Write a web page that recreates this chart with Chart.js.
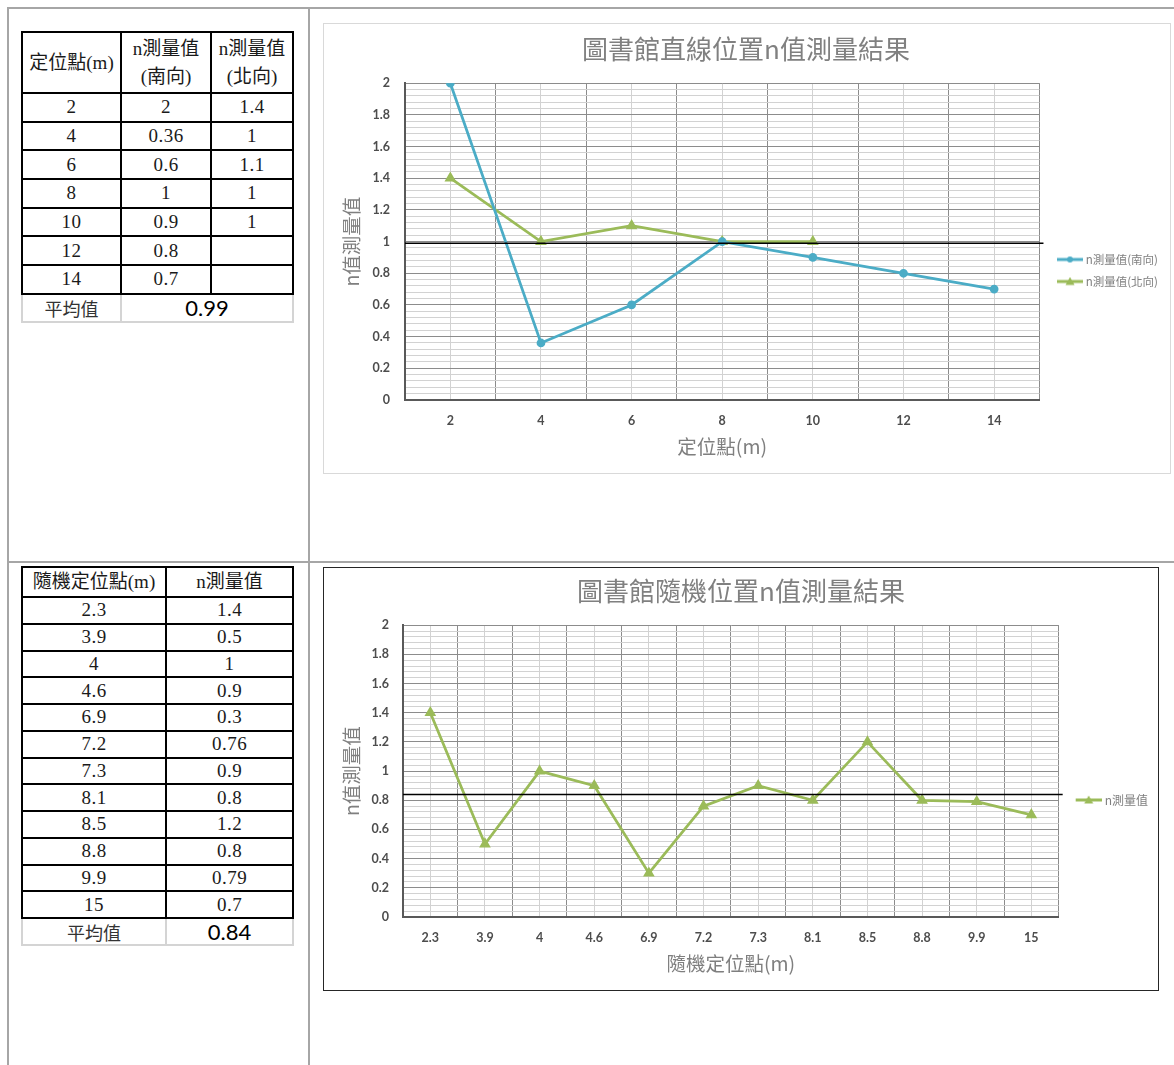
<!DOCTYPE html>
<html>
<head>
<meta charset="utf-8">
<script src="https://cdn.jsdelivr.net/npm/chart.js@4.4.1/dist/chart.umd.min.js"></script>
<style>
  body { margin: 0; width: 1174px; height: 1065px; background: #fff; position: relative; overflow: hidden;
         font-family: "Noto Sans CJK TC", sans-serif; }
  .rule { position: absolute; background: #a6a6a6; }
  table.data { position: absolute; border-collapse: collapse; table-layout: fixed;
               font-family: "Liberation Serif", "Noto Sans CJK TC", serif; font-size: 19px; color: #1a1a1a; }
  table.data td { border: 2px solid #000; text-align: center; vertical-align: middle; padding: 0;
                  line-height: 20px; letter-spacing: 0.5px; overflow: hidden; }
  table.data tr.head td { line-height: 28px; letter-spacing: 0; }
  table.data tr.avg td { border: 2px solid #d4d4d4; border-top: 2px solid #000;
                         font-family: "Noto Sans CJK TC", sans-serif; font-size: 18px; color: #333; letter-spacing: 0; }
  table.data tr.avg td.num { font-family: Lato, sans-serif; font-size: 22px; color: #000; }
  .box { position: absolute; box-sizing: border-box; }
</style>
</head>
<body>

<div class="rule" style="left:7px; top:7px; width:1167px; height:2px"></div>
<div class="rule" style="left:7px; top:7px; width:2px; height:1058px"></div>
<div class="rule" style="left:308px; top:7px; width:2px; height:1058px"></div>
<div class="rule" style="left:7px; top:561px; width:1167px; height:2px"></div>

<table class="data" id="tbl-straight" style="left:21px; top:31px"></table>
<table class="data" id="tbl-random" style="left:21px; top:566px"></table>

<div class="box" style="left:323px; top:23px; width:848px; height:451px; border:1px solid #d9d9d9">
  <canvas id="chart-straight"></canvas>
</div>
<div class="box" style="left:323px; top:567px; width:836px; height:424px; border:1px solid #262626">
  <canvas id="chart-random"></canvas>
</div>

<script>
// ── Data ──────────────────────────────────────────────────────────────────────
const straightPos   = ['2', '4', '6', '8', '10', '12', '14'];
const southVals     = [2, 0.36, 0.6, 1, 0.9, 0.8, 0.7];
const northVals     = [1.4, 1, 1.1, 1, 1, null, null];
const straightAvg   = 0.99;

const randomPos     = ['2.3', '3.9', '4', '4.6', '6.9', '7.2', '7.3', '8.1', '8.5', '8.8', '9.9', '15'];
const randomVals    = [1.4, 0.5, 1, 0.9, 0.3, 0.76, 0.9, 0.8, 1.2, 0.8, 0.79, 0.7];
const randomAvg     = 0.84;

const yMin = 0, yMax = 2, yMajor = 0.2, yMinor = 0.04;

const BLUE  = '#4bacc6';
const GREEN = '#9bbb59';
const CJK   = '"Noto Sans CJK TC", sans-serif';

// ── Tables ────────────────────────────────────────────────────────────────────
const cell = v => (v === null || v === undefined) ? '' : v;

document.getElementById('tbl-straight').innerHTML = `
  <colgroup><col style="width:99px"><col style="width:90px"><col style="width:82px"></colgroup>
  <tr class="head" style="height:61px"><td>定位點(m)</td><td>n測量值<br>(南向)</td><td>n測量值<br>(北向)</td></tr>
  ${straightPos.map((p, i) => `
  <tr style="height:28.7px"><td>${p}</td><td>${cell(southVals[i])}</td><td>${cell(northVals[i])}</td></tr>`).join('')}
  <tr class="avg" style="height:28px"><td>平均值</td><td class="num" colspan="2">${straightAvg}</td></tr>`;

document.getElementById('tbl-random').innerHTML = `
  <colgroup><col style="width:144px"><col style="width:127px"></colgroup>
  <tr class="head" style="height:30px"><td>隨機定位點(m)</td><td>n測量值</td></tr>
  ${randomPos.map((p, i) => `
  <tr style="height:26.75px"><td>${p}</td><td>${cell(randomVals[i])}</td></tr>`).join('')}
  <tr class="avg" style="height:27px"><td>平均值</td><td class="num">${randomAvg}</td></tr>`;

// ── Chart helpers ─────────────────────────────────────────────────────────────
const isMajor = v => Math.abs(v / yMajor - Math.round(v / yMajor)) < 1e-6;

// line + marker swatch used as the legend point style
function legendSample(color, marker, radius) {
  const c = document.createElement('canvas');
  c.width = 36; c.height = 10;
  const g = c.getContext('2d');
  g.strokeStyle = color; g.lineWidth = 3;
  g.beginPath(); g.moveTo(10, 5); g.lineTo(36, 5); g.stroke();
  g.fillStyle = color;
  g.beginPath();
  if (marker === 'circle') {
    g.arc(23, 5, radius, 0, Math.PI * 2);
  } else {
    g.moveTo(23, 0.5); g.lineTo(27.5, 8.5); g.lineTo(18.5, 8.5); g.closePath();
  }
  g.fill();
  return c;
}

// mean value drawn across the plot, a little past its right edge
const avgLine = {
  id: 'avgLine',
  afterDatasetsDraw(chart, args, opts) {
    const { ctx, chartArea, scales: { y } } = chart;
    const py = y.getPixelForValue(opts.value);
    ctx.save();
    ctx.strokeStyle = '#000';
    ctx.lineWidth = 1.6;
    ctx.beginPath();
    ctx.moveTo(chartArea.left, py);
    ctx.lineTo(chartArea.right + opts.overhang, py);
    ctx.stroke();
    ctx.restore();
  },
};

function buildChart(id, cfg) {
  const samples = cfg.datasets.map(d => legendSample(d.borderColor, d.pointStyle, d.pointRadius));
  const tickFont = { family: 'Lato, sans-serif', weight: 'bold', size: 12.5 };
  const axisTitleFont = { family: CJK, size: 19.5, lineHeight: 1.2 };

  return new Chart(document.getElementById(id), {
    type: 'line',
    data: { labels: cfg.labels, datasets: cfg.datasets },
    plugins: [avgLine],
    options: {
      responsive: true,
      maintainAspectRatio: false,
      animation: false,
      layout: { padding: { left: 0, right: cfg.padRight, top: 0, bottom: 0 } },
      plugins: {
        avgLine: { value: cfg.avg, overhang: 4 },
        tooltip: { enabled: false },
        title: {
          display: true,
          text: cfg.title,
          color: '#808080',
          font: { family: CJK, size: 26, weight: 'normal', lineHeight: 1.2 },
          padding: { top: cfg.titleTop, bottom: cfg.titleBottom },
        },
        legend: {
          position: 'right',
          // empty legend title only pushes the entries a bit below centre
          title: { display: true, text: '', font: { size: 10, lineHeight: 1.2 }, padding: { top: cfg.legendDrop, bottom: 0 } },
          labels: {
            usePointStyle: true,
            pointStyleWidth: 30,
            padding: 22 - cfg.legendSize,
            color: '#7f7f7f',
            font: { family: CJK, size: cfg.legendSize },
            generateLabels: chart =>
              Chart.defaults.plugins.legend.labels.generateLabels(chart)
                .map((item, i) => ({ ...item, pointStyle: samples[i] })),
          },
        },
      },
      scales: {
        x: {
          offset: true,
          afterFit: s => { s.height = cfg.xAxisHeight; },
          ticks: { padding: 13, color: '#4d4d4d', font: tickFont },
          grid: { offset: true, drawTicks: false, color: '#8c8c8c' },
          border: { color: '#595959', width: 2 },
          title: {
            display: true, text: cfg.xTitle, color: '#7f7f7f',
            font: axisTitleFont, padding: { bottom: 15 },
          },
        },
        // light lines through the category centres
        xc: {
          type: 'category',
          position: 'bottom',
          offset: true,
          ticks: { display: false },
          grid: { offset: false, drawTicks: false, color: '#d2d2d2' },
          border: { display: false },
        },
        y: {
          min: yMin,
          max: yMax,
          afterFit: s => { s.width = cfg.yAxisWidth; },
          ticks: {
            stepSize: yMinor,
            maxTicksLimit: 100,
            autoSkip: false,
            padding: cfg.yPad,
            color: '#4d4d4d',
            font: tickFont,
            callback: v => isMajor(v) ? String(Math.round(v * 10) / 10) : '',
          },
          grid: {
            drawTicks: false,
            color: c => isMajor(c.tick.value) ? '#8c8c8c' : '#d2d2d2',
          },
          border: { color: '#595959', width: 2 },
          title: {
            display: true, text: 'n值測量值', color: '#7f7f7f',
            font: axisTitleFont, padding: { top: 16 },
          },
        },
      },
    },
  });
}

// ── Straight-line positions ───────────────────────────────────────────────────
buildChart('chart-straight', {
  title: '圖書館直線位置n值測量結果',
  xTitle: '定位點(m)',
  labels: straightPos,
  avg: straightAvg,
  titleTop: 10, titleBottom: 18,
  xAxisHeight: 73, yAxisWidth: 81, yPad: 15,
  legendSize: 11.5, padRight: 2, legendDrop: 32,
  datasets: [
    {
      label: 'n測量值(南向)',
      data: southVals,
      borderColor: BLUE, backgroundColor: BLUE,
      borderWidth: 2.75, pointStyle: 'circle', pointRadius: 3,
      tension: 0,
    },
    {
      label: 'n測量值(北向)',
      data: northVals,
      borderColor: GREEN, backgroundColor: GREEN,
      borderWidth: 2.75, pointStyle: 'triangle', pointRadius: 4,
      tension: 0,
    },
  ],
});

// ── Random positions ──────────────────────────────────────────────────────────
buildChart('chart-random', {
  title: '圖書館隨機位置n值測量結果',
  xTitle: '隨機定位點(m)',
  labels: randomPos,
  avg: randomAvg,
  titleTop: 8, titleBottom: 18,
  xAxisHeight: 73, yAxisWidth: 79, yPad: 14,
  legendSize: 12, padRight: 0, legendDrop: 30,
  datasets: [
    {
      label: 'n測量值',
      data: randomVals,
      borderColor: GREEN, backgroundColor: GREEN,
      borderWidth: 2.75, pointStyle: 'triangle', pointRadius: 4,
      tension: 0,
    },
  ],
});
</script>
</body>
</html>
